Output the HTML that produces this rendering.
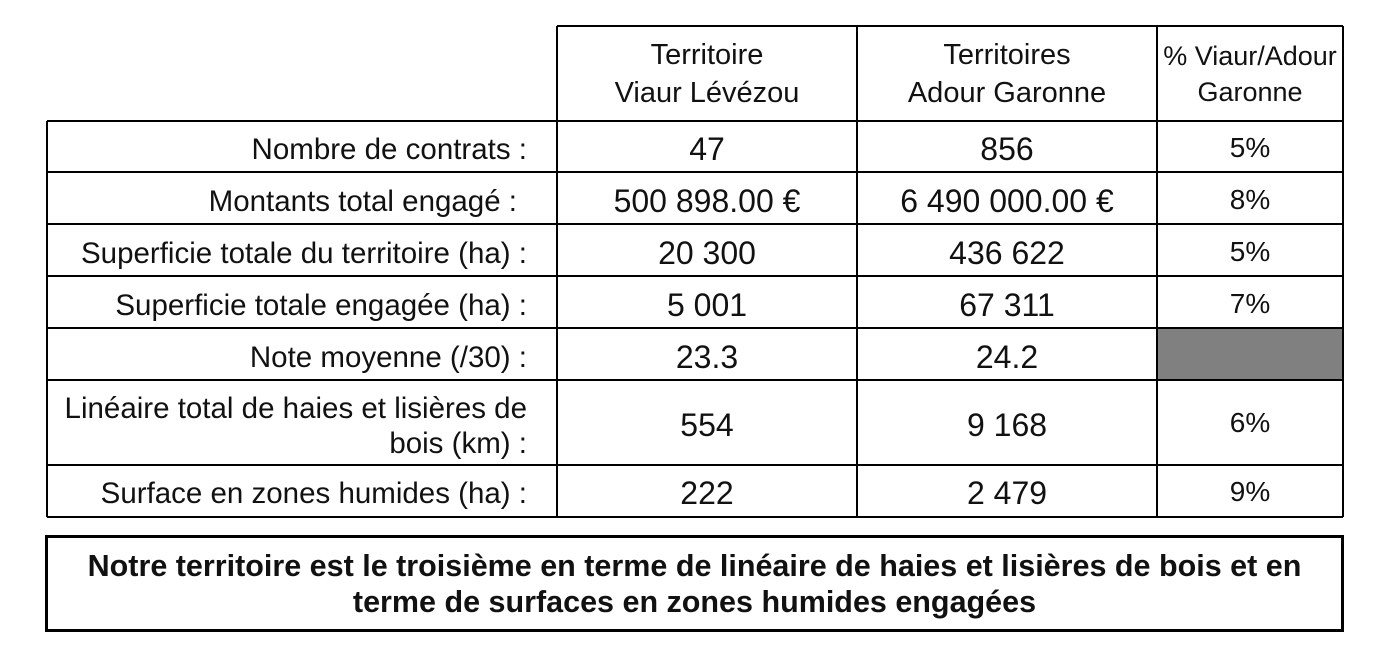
<!DOCTYPE html>
<html><head><meta charset="utf-8"><style>
body{margin:0;width:1377px;height:653px;background:#fff;position:relative;overflow:hidden;font-family:"Liberation Sans",Arial,sans-serif;color:#111}
.t{position:absolute;font-size:29.5px;line-height:35px;white-space:nowrap;display:flex;flex-direction:column;justify-content:center}
.c{text-align:center;align-items:center}
.r{text-align:right;align-items:flex-end}
.n{font-size:32px}
.p{font-size:28px}
.b{font-weight:bold}
</style></head><body>
<svg width="1377" height="653" style="position:absolute;left:0;top:0">
<rect x="1158" y="329" width="185" height="51" fill="#808080"/>
<g stroke="#000" stroke-width="2" fill="none">
<line x1="557" y1="26" x2="1343" y2="26"/>
<line x1="47" y1="121" x2="1343" y2="121"/>
<line x1="47" y1="172" x2="1343" y2="172"/>
<line x1="47" y1="224" x2="1343" y2="224"/>
<line x1="47" y1="276" x2="1343" y2="276"/>
<line x1="47" y1="328" x2="1343" y2="328"/>
<line x1="47" y1="380" x2="1343" y2="380"/>
<line x1="47" y1="465" x2="1343" y2="465"/>
<line x1="47" y1="517" x2="1343" y2="517"/>
<line x1="47" y1="121" x2="47" y2="517"/>
<line x1="557" y1="26" x2="557" y2="517"/>
<line x1="857" y1="26" x2="857" y2="517"/>
<line x1="1157" y1="26" x2="1157" y2="517"/>
<line x1="1343" y1="26" x2="1343" y2="517"/>
</g>
<rect x="46.5" y="536.5" width="1296" height="94" stroke="#000" stroke-width="3" fill="none"/>
</svg>
<div class="t c" style="left:557px;width:300px;top:26px;height:95px;line-height:38px;font-size:29px">Territoire<br>Viaur Lévézou</div>
<div class="t c" style="left:857px;width:300px;top:26px;height:95px;line-height:38px;font-size:29px">Territoires<br>Adour Garonne</div>
<div class="t c p" style="left:1157px;width:186px;top:26px;height:95px;font-size:27px;line-height:36px">% Viaur/Adour<br>Garonne</div>

<div class="t r" style="left:47px;width:480px;top:124px;height:50px">Nombre de contrats :</div>
<div class="t r" style="left:47px;width:470px;top:176px;height:50px">Montants total engagé :</div>
<div class="t r" style="left:47px;width:480px;top:228px;height:50px">Superficie totale du territoire (ha) :</div>
<div class="t r" style="left:47px;width:480px;top:280px;height:50px">Superficie totale engagée (ha) :</div>
<div class="t r" style="left:47px;width:480px;top:332px;height:50px">Note moyenne (/30) :</div>
<div class="t r" style="left:47px;width:480px;top:383px;height:85px">Linéaire total de haies et lisières de<br>bois (km) :</div>
<div class="t r" style="left:47px;width:480px;top:468px;height:50px">Surface en zones humides (ha) :</div>

<div class="t c n" style="left:557px;width:300px;top:124px;height:50px">47</div>
<div class="t c n" style="left:557px;width:300px;top:176px;height:50px">500 898.00 €</div>
<div class="t c n" style="left:557px;width:300px;top:228px;height:50px">20 300</div>
<div class="t c n" style="left:557px;width:300px;top:280px;height:50px">5 001</div>
<div class="t c n" style="left:557px;width:300px;top:332px;height:50px">23.3</div>
<div class="t c n" style="left:557px;width:300px;top:383px;height:85px">554</div>
<div class="t c n" style="left:557px;width:300px;top:468px;height:50px">222</div>

<div class="t c n" style="left:857px;width:300px;top:124px;height:50px">856</div>
<div class="t c n" style="left:857px;width:300px;top:176px;height:50px">6 490 000.00 €</div>
<div class="t c n" style="left:857px;width:300px;top:228px;height:50px">436 622</div>
<div class="t c n" style="left:857px;width:300px;top:280px;height:50px">67 311</div>
<div class="t c n" style="left:857px;width:300px;top:332px;height:50px">24.2</div>
<div class="t c n" style="left:857px;width:300px;top:383px;height:85px">9 168</div>
<div class="t c n" style="left:857px;width:300px;top:468px;height:50px">2 479</div>

<div class="t c p" style="left:1157px;width:186px;top:122px;height:50px">5%</div>
<div class="t c p" style="left:1157px;width:186px;top:174px;height:50px">8%</div>
<div class="t c p" style="left:1157px;width:186px;top:226px;height:50px">5%</div>
<div class="t c p" style="left:1157px;width:186px;top:278px;height:50px">7%</div>
<div class="t c p" style="left:1157px;width:186px;top:380px;height:85px">6%</div>
<div class="t c p" style="left:1157px;width:186px;top:466px;height:50px">9%</div>

<div class="t c b" style="left:46px;width:1297px;top:537px;height:93px;line-height:36px;font-size:30.5px">Notre territoire est le troisième en terme de linéaire de haies et lisières de bois et en<br>terme de surfaces en zones humides engagées</div>
</body></html>
